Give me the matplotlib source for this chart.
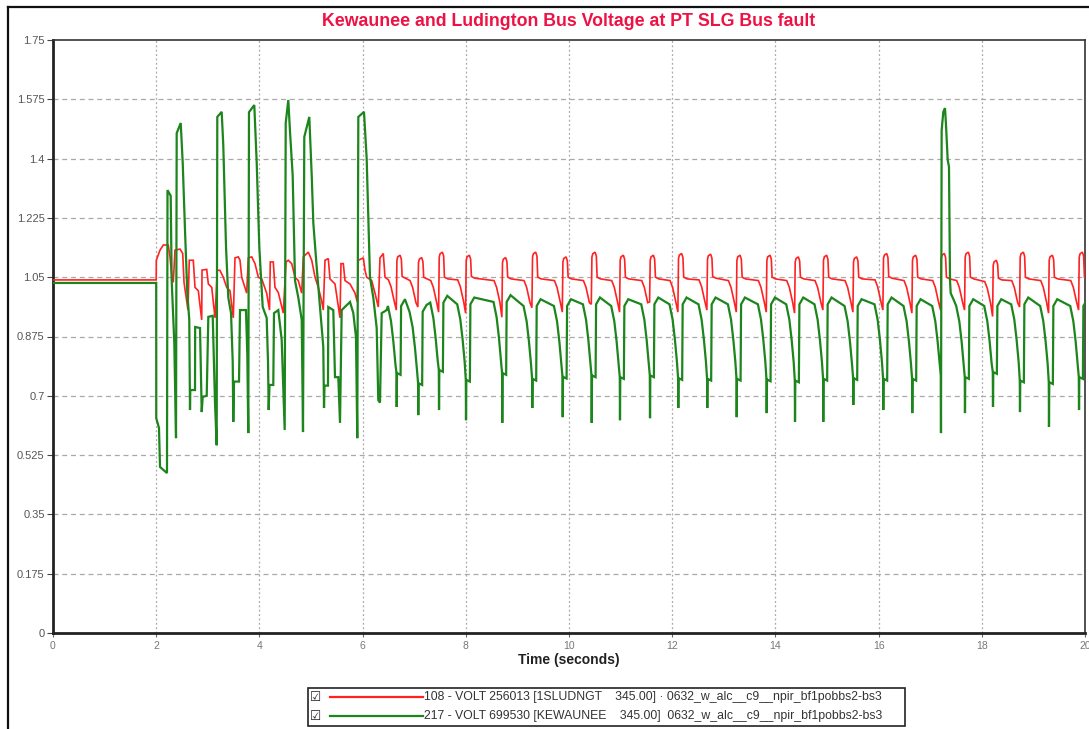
import matplotlib
matplotlib.use("Agg")
import matplotlib.pyplot as plt
from matplotlib.patches import Rectangle
from matplotlib.lines import Line2D

# ---------------- text ----------------
title = "Kewaunee and Ludington Bus Voltage at PT SLG Bus fault"
xlabel = "Time (seconds)"
legend_labels = [
    "108 - VOLT 256013 [1SLUDNGT    345.00] · 0632_w_alc__c9__npir_bf1pobbs2-bs3",
    "217 - VOLT 699530 [KEWAUNEE    345.00]  0632_w_alc__c9__npir_bf1pobbs2-bs3",
]
x_ticks = [0, 2, 4, 6, 8, 10, 12, 14, 16, 18, 20]
x_tick_labels = ["0", "2", "4", "6", "8", "10", "12", "14", "16", "18", "20"]
y_ticks = [0, 0.175, 0.35, 0.525, 0.7, 0.875, 1.05, 1.225, 1.4, 1.575, 1.75]
y_tick_labels = ["0", "0.175", "0.35", "0.525", "0.7", "0.875", "1.05", "1.225", "1.4", "1.575", "1.75"]

# ---------------- pre-fault + transient (read point by point) ----------------
red_t_transient = [0, 2.0, 2.002, 2.074, 2.138, 2.234, 2.267, 2.306, 2.331, 2.364, 2.461, 2.514, 2.539,
                   2.616, 2.641, 2.719, 2.752, 2.816, 2.882, 2.888, 2.979, 3.010, 3.076, 3.140, 3.184,
                   3.236, 3.300, 3.366, 3.430, 3.494, 3.527, 3.591, 3.624, 3.657, 3.754, 3.785, 3.851,
                   3.915, 3.979, 4.045, 4.141, 4.196, 4.211, 4.269, 4.302, 4.366, 4.463, 4.516, 4.560,
                   4.626, 4.690, 4.754, 4.820, 4.851, 4.948, 5.014, 5.078, 5.141, 5.207, 5.238, 5.271,
                   5.335, 5.368, 5.465, 5.562, 5.581, 5.626, 5.659, 5.756, 5.853, 5.897, 5.917, 6.014,
                   6.047, 6.079, 6.176, 6.240, 6.304, 6.337, 6.401, 6.434]
red_v_transient = [1.042, 1.042, 1.10, 1.13, 1.145, 1.145, 1.11, 1.045, 1.035, 1.13, 1.133, 1.12, 1.035,
                   0.953, 1.10, 1.10, 1.02, 1.01, 0.924, 1.071, 1.073, 1.03, 1.02, 0.93, 1.071,
                   1.07, 1.05, 1.02, 1.01, 0.93, 1.107, 1.11, 1.10, 1.05, 1.003, 1.107, 1.11,
                   1.09, 1.05, 1.045, 1.003, 0.953, 1.095, 1.095, 1.02, 1.005, 0.944, 1.095, 1.10,
                   1.09, 1.05, 1.04, 1.003, 1.11, 1.124, 1.10, 1.05, 1.02, 0.98, 0.953, 1.10,
                   1.105, 1.045, 1.03, 0.93, 1.09, 1.09, 1.04, 1.03, 1.003, 0.977, 1.10, 1.107,
                   1.07, 1.05, 1.04, 1.003, 0.962, 1.107, 1.12, 1.05]

green_t_transient = [0, 2.0, 2.001, 2.054, 2.074, 2.209, 2.219, 2.281, 2.300, 2.351, 2.384, 2.397, 2.475,
                     2.514, 2.558, 2.603, 2.641, 2.655, 2.661, 2.752, 2.755, 2.849, 2.882, 2.901, 2.979,
                     3.010, 3.095, 3.140, 3.172, 3.184, 3.269, 3.300, 3.353, 3.397, 3.450, 3.483, 3.494,
                     3.508, 3.605, 3.624, 3.740, 3.766, 3.785, 3.798, 3.901, 3.948, 3.998, 4.064, 4.141,
                     4.167, 4.180, 4.196, 4.269, 4.283, 4.366, 4.432, 4.490, 4.510, 4.560, 4.593, 4.645,
                     4.690, 4.754, 4.820, 4.845, 4.870, 4.967, 5.014, 5.045, 5.110, 5.174, 5.238, 5.252,
                     5.262, 5.329, 5.335, 5.432, 5.465, 5.529, 5.562, 5.595, 5.756, 5.820, 5.872, 5.897,
                     5.917, 6.027, 6.079, 6.143, 6.207, 6.273, 6.304, 6.337, 6.370, 6.467]
green_v_transient = [1.033, 1.033, 0.634, 0.605, 0.49, 0.472, 1.307, 1.29, 1.04, 0.856, 0.575, 1.475, 1.505,
                     1.387, 1.19, 1.003, 0.924, 0.658, 0.717, 0.717, 0.903, 0.90, 0.652, 0.697, 0.70,
                     0.933, 0.936, 0.678, 0.554, 1.523, 1.538, 1.44, 1.14, 0.99, 0.944, 0.80, 0.623,
                     0.742, 0.742, 0.953, 0.953, 0.82, 0.59, 1.537, 1.558, 1.387, 1.14, 0.962, 0.93,
                     0.80, 0.658, 0.732, 0.732, 0.944, 0.953, 0.865, 0.599, 1.505, 1.573, 1.48, 1.35,
                     1.04, 0.99, 0.924, 0.593, 1.464, 1.523, 1.35, 1.21, 1.08, 0.962, 0.845, 0.664,
                     0.73, 0.73, 0.962, 0.953, 0.755, 0.755, 0.62, 0.953, 0.977, 0.944, 0.873, 0.575,
                     1.523, 1.538, 1.40, 1.05, 0.99, 0.90, 0.687, 0.68, 0.944, 0.953]

# ---------------- sustained oscillation: one reading per swing ----------------
cycle_t = [6.661, 7.079, 7.481, 8.004, 8.707, 9.289, 9.878, 10.440, 10.988, 11.570, 12.118, 12.680,
           13.250, 13.831, 14.380, 14.928, 15.510, 16.091, 16.653, 17.209, 17.674, 18.217, 18.740,
           19.302, 19.884]
green_needle = [0.667, 0.643, 0.658, 0.628, 0.62, 0.664, 0.637, 0.62, 0.628, 0.634, 0.664, 0.664,
                0.637, 0.649, 0.623, 0.623, 0.673, 0.658, 0.649, 0.59, 0.649, 0.667, 0.652, 0.608, 0.658]
green_shoulder = [0.767, 0.737, 0.776, 0.747, 0.767, 0.75, 0.756, 0.76, 0.755, 0.76, 0.752, 0.75,
                  0.75, 0.748, 0.745, 0.75, 0.752, 0.75, 0.75, 0.76, 0.755, 0.77, 0.745, 0.74, 0.755]
green_plateau = [0.985, 0.968, 0.995, 0.99, 0.997, 0.985, 0.985, 0.99, 0.985, 0.99, 0.99, 0.99,
                 0.99, 0.99, 0.99, 0.99, 0.985, 0.99, 0.985, 0.985, 0.985, 0.985, 0.99, 0.985, 0.985]
red_peak = [1.115, 1.108, 1.124, 1.115, 1.108, 1.124, 1.11, 1.124, 1.115, 1.115, 1.12, 1.118,
            1.115, 1.115, 1.11, 1.115, 1.11, 1.12, 1.115, 1.12, 1.124, 1.10, 1.124, 1.115, 1.124]
red_min = [0.953, 0.962, 0.947, 0.944, 0.932, 0.96, 0.947, 0.97, 0.947, 0.977, 0.947, 0.953,
           0.947, 0.947, 0.944, 0.953, 0.947, 0.953, 0.944, 0.953, 0.953, 0.934, 0.962, 0.944, 0.953]
red_plateau = [1.047, 1.045, 1.045, 1.047, 1.045, 1.045, 1.045, 1.045, 1.045, 1.045, 1.045, 1.047,
               1.045, 1.045, 1.045, 1.045, 1.045, 1.047, 1.045, 1.045, 1.045, 1.042, 1.045, 1.045, 1.045]

# the one large overshoot of the Kewaunee voltage after the swing at 17.2 s
green_spike_t = [17.222, 17.254, 17.287, 17.306, 17.339, 17.364, 17.384, 17.397, 17.45]
green_spike_v = [1.484, 1.538, 1.549, 1.50, 1.396, 1.376, 1.04, 1.003, 0.985]
spike_cycle = 17.209

# shape of one swing (time offset from the dip, s)
g_pre_dt = [-0.17, -0.11, -0.065, -0.026]
g_pre_drop = [0.02, 0.065, 0.125, 0.19]          # below plateau
r_pre_dt = [-0.16, -0.11, -0.045]
r_pre_drop = [0.005, 0.025, 0.07]                # below red plateau


def build_green():
    t = list(green_t_transient)
    v = list(green_v_transient)
    for T, N, S, P in zip(cycle_t, green_needle, green_shoulder, green_plateau):
        for dt, dv in zip(g_pre_dt, g_pre_drop):
            t.append(T + dt); v.append(P - dv)
        t += [T - 0.004, T]; v += [S, N]
        if T == spike_cycle:
            t += green_spike_t; v += green_spike_v
        else:
            t += [T + 0.006, T + 0.075, T + 0.085, T + 0.16]
            v += [S, S - 0.005, P - 0.02, P]
    return t, v


def build_red():
    t = list(red_t_transient)
    v = list(red_v_transient)
    for T, pk, mn, R0 in zip(cycle_t, red_peak, red_min, red_plateau):
        for dt, dv in zip(r_pre_dt, r_pre_drop):
            t.append(T + dt); v.append(R0 - dv)
        t += [T - 0.008, T + 0.004, T + 0.02, T + 0.065, T + 0.09, T + 0.105, T + 0.17]
        v += [mn, pk - 0.015, pk - 0.005, pk, pk - 0.012, R0 + 0.005, R0]
    return t, v


W, H = 1089, 729
fig = plt.figure(figsize=(W / 100, H / 100), dpi=100)
fig.patch.set_facecolor("white")

ax_l, ax_r, ax_t, ax_b = 53, 1085, 40, 633
ax = fig.add_axes([ax_l / W, 1 - ax_b / H, (ax_r - ax_l) / W, (ax_b - ax_t) / H])

rt, rv = build_red()
gt, gv = build_green()
ax.plot(rt, rv, color="#ff2222", lw=1.2, solid_joinstyle="miter", zorder=3)
ax.plot(gt, gv, color="#1c851c", lw=1.6, solid_joinstyle="miter", zorder=4)

ax.set_xlim(0, 20)
ax.set_ylim(0, 1.75)
ax.set_xticks(x_ticks)
ax.set_xticklabels(x_tick_labels)
ax.set_yticks(y_ticks)
ax.set_yticklabels(y_tick_labels)

for y in y_ticks[1:-1]:
    ax.axhline(y, color="#a9a9a9", lw=0.9, ls=(0, (4, 3)), zorder=1)
for x in x_ticks[1:-1]:
    ax.axvline(x, color="#a9a9a9", lw=0.9, ls=(0, (1.5, 2)), zorder=1)

ax.tick_params(axis="y", direction="out", length=4, width=0.8, colors="#444444",
               labelsize=8, labelcolor="#555555", pad=2)
ax.tick_params(axis="x", direction="out", length=3, width=0.8, colors="#666666",
               labelsize=7.5, labelcolor="#777777", pad=3)
for side in ["left", "bottom"]:
    ax.spines[side].set_linewidth(2.0)
    ax.spines[side].set_color("#222222")
for side in ["top", "right"]:
    ax.spines[side].set_linewidth(1.2)
    ax.spines[side].set_color("#333333")

for lab in ax.get_yticklabels() + ax.get_xticklabels():
    lab.set_family("Liberation Sans")

ax.set_xlabel(xlabel, fontsize=10, fontweight="bold", family="Liberation Sans",
              color="#222222", labelpad=1)

fig.text(569 / W, 1 - 22 / H, title, ha="center", va="center", fontsize=12.8,
         fontweight="bold", color="#ee1144", family="Liberation Sans")

# outer window frame (left and top edges)
fig.add_artist(Line2D([8 / W, 8 / W], [0, 1 - 7 / H], transform=fig.transFigure,
                      color="#111111", lw=1.6))
fig.add_artist(Line2D([8 / W, 1], [1 - 7 / H, 1 - 7 / H], transform=fig.transFigure,
                      color="#111111", lw=1.6))

# legend box
lx0, lx1, ly0, ly1 = 308, 905, 688, 726
fig.patches.append(Rectangle((lx0 / W, 1 - ly1 / H), (lx1 - lx0) / W, (ly1 - ly0) / H,
                             transform=fig.transFigure, facecolor="white",
                             edgecolor="#222222", lw=1.2))
rows_y = [697, 716]
colors = ["#ff2222", "#1c851c"]
for yy, c, lab in zip(rows_y, colors, legend_labels):
    fy = 1 - yy / H
    fig.text(316 / W, fy, "\u2611", ha="center", va="center", fontsize=9,
             family="DejaVu Sans", color="#222222")
    fig.add_artist(Line2D([330 / W, 423 / W], [fy, fy], transform=fig.transFigure,
                          color=c, lw=1.6))
    fig.text(424 / W, fy, lab, ha="left", va="center", fontsize=8.8,
             family="Liberation Sans", color="#333333")

fig.savefig("out.png", dpi=100)
